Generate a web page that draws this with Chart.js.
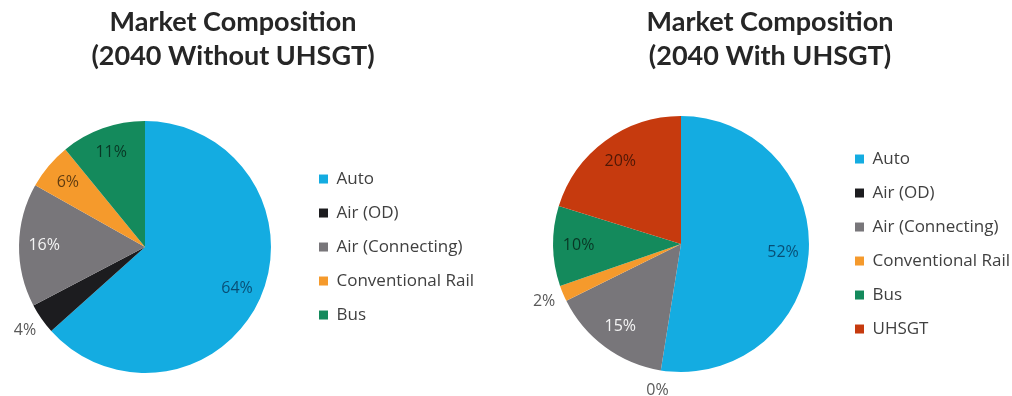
<!DOCTYPE html>
<html>
<head>
<meta charset="utf-8">
<script src="https://cdn.jsdelivr.net/npm/chart.js@4/dist/chart.umd.min.js"></script>
<style>
  html, body { margin: 0; padding: 0; background: #fff; overflow: hidden; }
  body { width: 1012px; height: 396px; position: relative; }
  canvas { position: absolute; top: 0; }
  #before { left: -12px; }
  #after { left: 524px; }
</style>
</head>
<body>
<canvas id="before" width="490" height="396"></canvas>
<canvas id="after" width="492" height="396"></canvas>
<script>
// travel modes and their share of the 2040 market (%)
const modesBefore = ["Auto", "Air (OD)", "Air (Connecting)", "Conventional Rail", "Bus"];
const sharesBefore = [64, 4, 16, 6, 11];
const titleBefore = ["Market Composition", "(2040 Without UHSGT)"];

const modesAfter = ["Auto", "Air (OD)", "Air (Connecting)", "Conventional Rail", "Bus", "UHSGT"];
const sharesAfter = [52, 0, 15, 2, 10, 20];
const titleAfter = ["Market Composition", "(2040 With UHSGT)"];

const modeColors = {
  "Auto": "#14ace1",
  "Air (OD)": "#1c1c1f",
  "Air (Connecting)": "#78767a",
  "Conventional Rail": "#f59a2c",
  "Bus": "#148a5c",
  "UHSGT": "#c63a0e"
};
const labelInk = {
  "Auto": "rgba(0,20,50,0.62)",
  "Air (OD)": "#595959",
  "Air (Connecting)": "rgba(255,255,255,0.92)",
  "Conventional Rail": "rgba(0,0,0,0.62)",
  "Bus": "rgba(0,0,0,0.6)",
  "UHSGT": "rgba(0,0,0,0.6)"
};

// percent labels: inside the slice, or just outside it for thin slices
const sliceLabels = {
  id: "sliceLabels",
  afterDatasetsDraw(chart) {
    const ctx = chart.ctx;
    const meta = chart.getDatasetMeta(0);
    const values = chart.data.datasets[0].data;
    const names = chart.data.labels;
    ctx.save();
    ctx.font = "16px 'Open Sans'";
    ctx.textAlign = "center";
    ctx.textBaseline = "middle";
    meta.data.forEach((arc, i) => {
      const p = arc.getProps(["x", "y", "startAngle", "endAngle", "outerRadius"], true);
      const mid = (p.startAngle + p.endAngle) / 2;
      const outside = values[i] < 5;
      const r = p.outerRadius * (outside ? 1.16 : 0.8);
      ctx.fillStyle = outside ? "#595959" : labelInk[names[i]];
      ctx.fillText(values[i] + "%", p.x + Math.cos(mid) * r, p.y + Math.sin(mid) * r);
    });
    ctx.restore();
  }
};

function drawPie(id, modes, shares, title, legendWidth, gapBelowTitle, bottomPad) {
  new Chart(document.getElementById(id), {
    type: "pie",
    data: {
      labels: modes,
      datasets: [{
        data: shares,
        backgroundColor: modes.map(m => modeColors[m]),
        borderWidth: 0
      }]
    },
    options: {
      responsive: false,
      animation: false,
      layout: { padding: { left: 0, right: 0, top: 0, bottom: bottomPad } },
      plugins: {
        tooltip: { enabled: false },
        title: {
          display: true,
          text: title,
          color: "#262626",
          font: { family: "Lato", size: 27, weight: "bold", lineHeight: 1.26 },
          padding: { top: 5, bottom: gapBelowTitle }
        },
        legend: {
          position: "right",
          fullSize: false,
          maxWidth: legendWidth,
          labels: {
            boxWidth: 9,
            boxHeight: 9,
            padding: 17,
            color: "#404040",
            font: { family: "Open Sans", size: 17 }
          }
        }
      }
    },
    plugins: [sliceLabels]
  });
}

drawPie("before", modesBefore, sharesBefore, titleBefore, 176, 48, 23);
drawPie("after", modesAfter, sharesAfter, titleAfter, 178, 43, 24);
</script>
</body>
</html>
